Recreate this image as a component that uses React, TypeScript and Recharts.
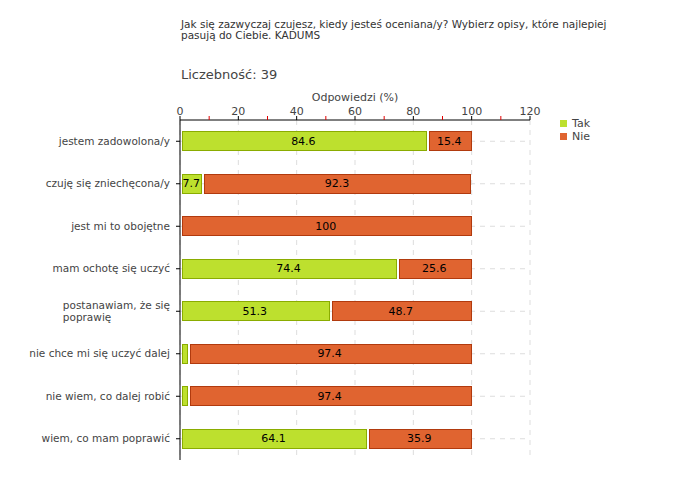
import React from 'react';
import { BarChart, Bar, XAxis, YAxis, CartesianGrid, LabelList } from 'recharts';

const categories = [
  'jestem zadowolona/y',
  'czuję się zniechęcona/y',
  'jest mi to obojętne',
  'mam ochotę się uczyć',
  'postanawiam, że się\npoprawię',
  'nie chce mi się uczyć dalej',
  'nie wiem, co dalej robić',
  'wiem, co mam poprawić',
];
const takValues = [84.6, 7.7, 0, 74.4, 51.3, 2.6, 2.6, 64.1];
const nieValues = [15.4, 92.3, 100, 25.6, 48.7, 97.4, 97.4, 35.9];
const majorTicks = [0, 20, 40, 60, 80, 100, 120];
const minorTicks = [10, 30, 50, 70, 90, 110];
const seriesNames = ['Tak', 'Nie'];

const FONT = '"DejaVu Sans", Verdana, sans-serif';
const LABEL_SIZE = 10.5;
const GREEN = '#bde02e';
const GREEN_EDGE = '#8aac00';
const ORANGE = '#e06430';
const ORANGE_EDGE = '#b13a0e';

const data = categories.map((name, i) => ({ name, tak: takValues[i], nie: nieValues[i] }));

let ctx: CanvasRenderingContext2D | null = null;
const measure = (s: string) => {
  if (!ctx) ctx = document.createElement('canvas').getContext('2d');
  if (!ctx) return s.length * 6;
  ctx.font = `${LABEL_SIZE}px ${FONT}`;
  return ctx.measureText(s).width;
};

const XTick = (props: any) => {
  const { x, y, payload } = props;
  const v = payload.value;
  const major = v % 20 === 0;
  return (
    <g>
      <line x1={x} x2={x} y1={y - 4} y2={y} stroke={major ? '#000' : '#e00000'} />
      {major && (
        <text x={x} y={y - 5} textAnchor="middle" fontSize={11} fontFamily={FONT} fill="#444">
          {v}
        </text>
      )}
    </g>
  );
};

const YTick = (props: any) => {
  const { x, y, payload } = props;
  const lines = String(payload.value).split('\n');
  const w = Math.max(...lines.map(measure));
  const start = y - ((lines.length - 1) * 12) / 2;
  return (
    <g>
      {lines.map((l, i) => (
        <text key={i} x={lines.length > 1 ? x - w : x} y={start + i * 12} dy="0.35em"
          textAnchor={lines.length > 1 ? 'start' : 'end'} fontSize={LABEL_SIZE} fontFamily={FONT} fill="#444">
          {l}
        </text>
      ))}
    </g>
  );
};

const Segment = (fill: string, stroke: string) => (props: any) => {
  const { x, y, width, height } = props;
  if (!width || width <= 3) return <g />;
  return (
    <rect x={Math.round(x + 2) + 0.5} y={Math.round(y) + 0.5} width={Math.round(width - 3)}
      height={Math.round(height) - 1} fill={fill} stroke={stroke} />
  );
};

const showLabel = (v: any) => (v >= 5 ? v : '');

// horizontal grid only through the middle of each category row
const rowCenters = ({ offset }: any) =>
  categories.map((_, i) => offset.top + (offset.height * (i + 0.5)) / categories.length);

export default function App() {
  return (
    <div style={{ position: 'absolute', left: 0, top: 0, width: 680, height: 480, background: '#fff' }}>
      <div style={{ position: 'absolute', left: 181, top: 19, fontFamily: FONT, fontSize: 10.5, color: '#333', lineHeight: '11px', width: 470 }}>
        Jak się zazwyczaj czujesz, kiedy jesteś oceniana/y? Wybierz opisy, które najlepiej<br />
        pasują do Ciebie. KADUMS
      </div>
      <div style={{ position: 'absolute', left: 181, top: 67, fontFamily: FONT, fontSize: 13, color: '#444' }}>
        Liczebność: 39
      </div>
      <div style={{ position: 'absolute', left: 180, width: 350, top: 91, textAlign: 'center', fontFamily: FONT, fontSize: 11, color: '#444' }}>
        Odpowiedzi (%)
      </div>
      <div style={{ position: 'absolute', left: 560, top: 117, fontFamily: FONT, fontSize: 11, color: '#444', lineHeight: '13px' }}>
        {seriesNames.map((t, i) => (
          <div key={t} style={{ display: 'flex', alignItems: 'center' }}>
            <span style={{ display: 'inline-block', width: 7, height: 7, background: i === 0 ? GREEN : ORANGE, marginRight: 5 }} />
            {t}
          </div>
        ))}
      </div>
      <div style={{ position: 'absolute', left: 0, top: 0 }}>
        <BarChart width={680} height={480} data={data} layout="vertical"
          margin={{ top: 90, right: 150, bottom: 20, left: 0 }} barSize={20}>
          <CartesianGrid stroke="#dddddd" strokeDasharray="5 5" verticalValues={majorTicks}
            horizontalCoordinatesGenerator={rowCenters} />
          <XAxis type="number" orientation="top" domain={[0, 120]} ticks={[...majorTicks, ...minorTicks].sort((a, b) => a - b)}
            height={30} tickSize={0} tickMargin={0} tickLine={false} axisLine={{ stroke: '#000' }} tick={<XTick />} />
          <YAxis type="category" dataKey="name" width={180} tickSize={4} tickMargin={6}
            axisLine={{ stroke: '#000' }} tickLine={{ stroke: '#000' }} tick={<YTick />} interval={0} />
          <Bar dataKey="tak" name="Tak" stackId="a" fill={GREEN} shape={Segment(GREEN, GREEN_EDGE)} isAnimationActive={false}>
            <LabelList dataKey="tak" position="center" formatter={showLabel} fontSize={11} fontFamily={FONT} fill="#000" />
          </Bar>
          <Bar dataKey="nie" name="Nie" stackId="a" fill={ORANGE} shape={Segment(ORANGE, ORANGE_EDGE)} isAnimationActive={false}>
            <LabelList dataKey="nie" position="center" formatter={showLabel} fontSize={11} fontFamily={FONT} fill="#000" />
          </Bar>
        </BarChart>
      </div>
    </div>
  );
}
